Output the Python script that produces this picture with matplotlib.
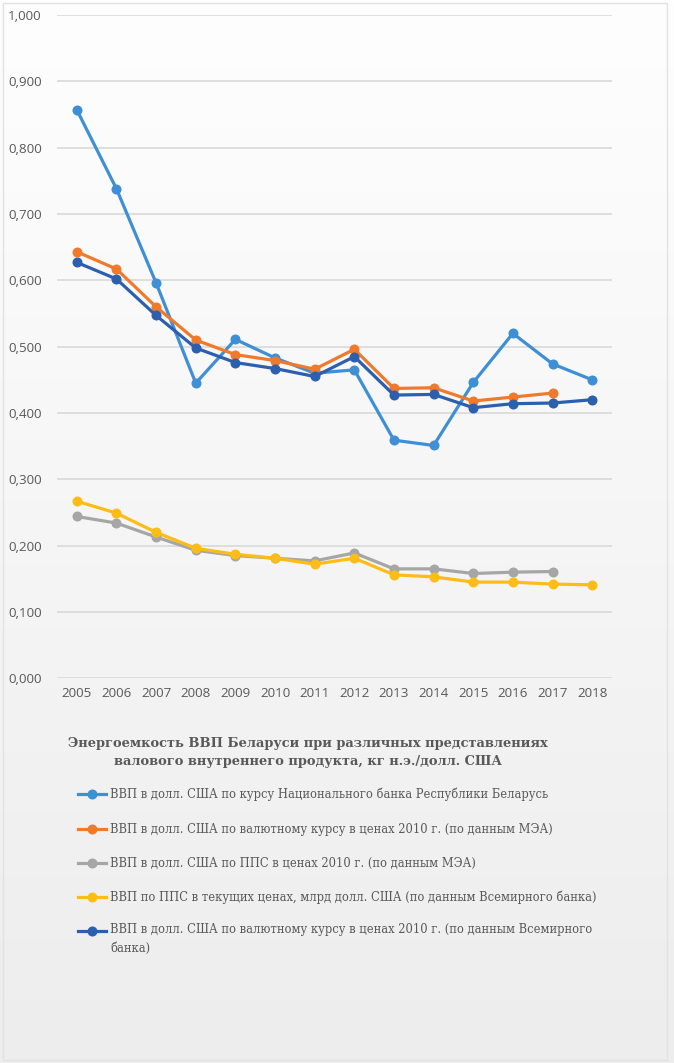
import matplotlib
matplotlib.use("Agg")
import matplotlib.pyplot as plt
import numpy as np
from matplotlib.patches import Rectangle
from matplotlib.lines import Line2D
from matplotlib.colors import LinearSegmentedColormap

years = list(range(2005, 2019))

nb_rate = [0.857, 0.738, 0.596, 0.445, 0.511, 0.483, 0.460, 0.465, 0.359, 0.351, 0.446, 0.520, 0.474, 0.450]
iea_rate = [0.643, 0.617, 0.560, 0.510, 0.488, 0.479, 0.466, 0.496, 0.437, 0.438, 0.418, 0.424, 0.430]
iea_ppp = [0.244, 0.234, 0.213, 0.193, 0.185, 0.181, 0.177, 0.189, 0.165, 0.165, 0.158, 0.160, 0.161]
wb_ppp = [0.267, 0.249, 0.220, 0.196, 0.187, 0.181, 0.172, 0.181, 0.156, 0.153, 0.145, 0.145, 0.142, 0.141]
wb_rate = [0.627, 0.602, 0.547, 0.498, 0.476, 0.467, 0.455, 0.485, 0.427, 0.428, 0.408, 0.414, 0.415, 0.420]

labels = [
    "ВВП в долл. США по курсу Национального банка Республики Беларусь",
    "ВВП в долл. США по валютному курсу в ценах 2010 г. (по данным МЭА)",
    "ВВП в долл. США по ППС в ценах 2010 г. (по данным МЭА)",
    "ВВП по ППС в текущих ценах, млрд долл. США (по данным Всемирного банка)",
    "ВВП в долл. США по валютному курсу в ценах 2010 г. (по данным Всемирного\nбанка)",
]
title = "Энергоемкость ВВП Беларуси при различных представлениях\nвалового внутреннего продукта, кг н.э./долл. США"
yticks = [0.0, 0.1, 0.2, 0.3, 0.4, 0.5, 0.6, 0.7, 0.8, 0.9, 1.0]

colors = ["#3f8fd6", "#f07a2c", "#a6a6a6", "#fdbd16", "#2c5fae"]
series = [nb_rate, iea_rate, iea_ppp, wb_ppp, wb_rate]

W, H = 674, 1063
fig = plt.figure(figsize=(W / 100, H / 100), dpi=100)

# background gradient
bg = fig.add_axes([0, 0, 1, 1], zorder=-10)
grad = np.linspace(0, 1, 256).reshape(-1, 1)
cmap = LinearSegmentedColormap.from_list("bg", ["#fefefe", "#ededed"])
bg.imshow(grad, aspect="auto", cmap=cmap, extent=[0, 1, 0, 1], origin="upper")
bg.add_patch(Rectangle((3 / W, 3 / H), 664 / W, (H - 6) / H, fill=False,
                       edgecolor="#e2e2e2", lw=1.0, transform=bg.transAxes))
bg.set_xlim(0, 1)
bg.set_ylim(0, 1)
bg.axis("off")

left, right = 57 / W, 612 / W
bottom, top = 1 - 678.3 / H, 1 - 15 / H
ax = fig.add_axes([left, bottom, right - left, top - bottom])
ax.patch.set_alpha(0)
ax.set_xlim(2004.5, 2018.5)
ax.set_ylim(0, 1.0)
for s in ax.spines.values():
    s.set_visible(False)
ax.set_yticks(yticks)
ax.set_yticklabels([f"{v:.3f}".replace(".", ",") for v in yticks])
ax.set_xticks(years)
ax.set_xticklabels([str(y) for y in years])
ax.tick_params(length=0, labelsize=9.6, colors="#595959")
ax.tick_params(axis="y", pad=11)
ax.tick_params(axis="x", pad=6)
for lab in ax.get_xticklabels() + ax.get_yticklabels():
    lab.set_fontfamily("Open Sans")
ax.grid(axis="y", color="#d9d9d9", lw=1.2)
ax.set_axisbelow(True)

for vals, c in zip(series, colors):
    ax.plot(years[:len(vals)], vals, color=c, lw=2.3, marker="o", ms=6.2,
            clip_on=False, solid_capstyle="round")

fig.text(308 / W, 1 - 752.5 / H, title, ha="center", va="center",
         fontsize=9.4, color="#595959", family="DejaVu Serif",
         fontweight="bold", linespacing=1.45)

leg_y = [794, 829, 863, 897, 931]
for y, lab, c in zip(leg_y, labels, colors):
    yf = 1 - y / H
    fig.add_artist(Line2D([78 / W, 106 / W], [yf, yf], color=c, lw=2.3,
                          transform=fig.transFigure))
    fig.add_artist(Line2D([92 / W], [yf], color=c, marker="o", ms=6.2,
                          transform=fig.transFigure))
    if "\n" in lab:
        fig.text(110 / W, 1 - (y - 7.5) / H, lab, ha="left", va="top",
                 fontsize=8.3, color="#595959", family="DejaVu Serif",
                 linespacing=1.55)
    else:
        fig.text(110 / W, yf, lab, ha="left", va="center",
                 fontsize=8.3, color="#595959", family="DejaVu Serif")

fig.savefig("out.png", dpi=100)
